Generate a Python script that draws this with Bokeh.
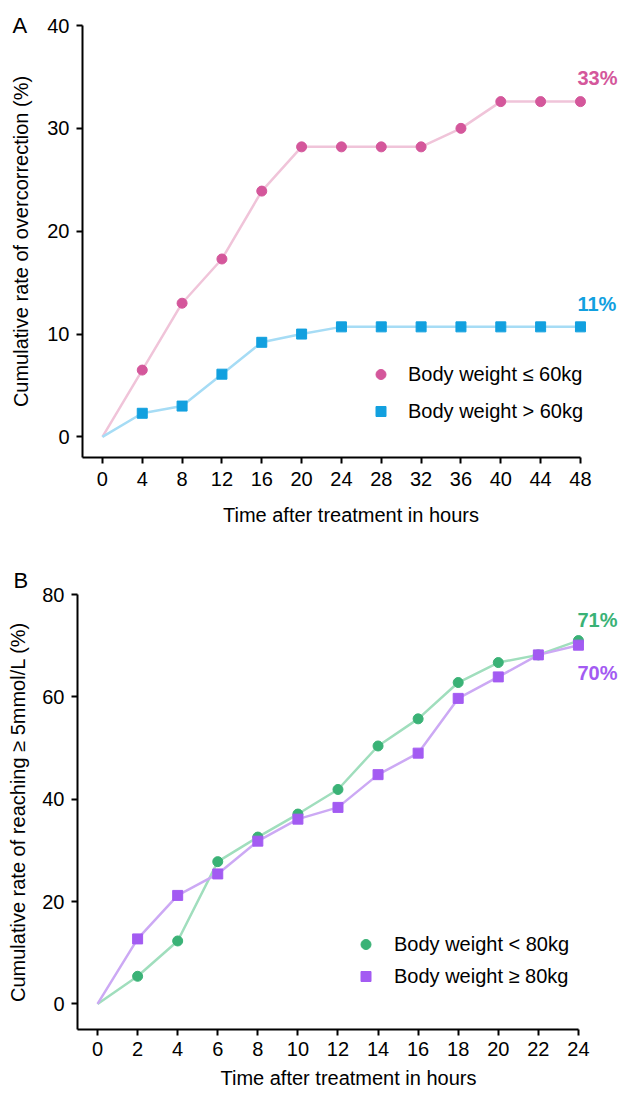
from bokeh.plotting import figure
from bokeh.models import Range1d, Label, Legend, LegendItem, FixedTicker, Title
from bokeh.embed import file_html
from bokeh.resources import INLINE

# ---------------- data ----------------
hours_a = [0, 4, 8, 12, 16, 20, 24, 28, 32, 36, 40, 44, 48]
rate_le60 = [0, 6.5, 13.0, 17.3, 23.9, 28.2, 28.2, 28.2, 28.2, 30.0, 32.6, 32.6, 32.6]
rate_gt60 = [0, 2.3, 3.0, 6.1, 9.2, 10.0, 10.7, 10.7, 10.7, 10.7, 10.7, 10.7, 10.7]
label_le60 = "Body weight \u2264 60kg"
label_gt60 = "Body weight > 60kg"
final_a = ["33%", "11%"]
yticks_a = [0, 10, 20, 30, 40]

hours_b = [0, 2, 4, 6, 8, 10, 12, 14, 16, 18, 20, 22, 24]
rate_lt80 = [0, 5.4, 12.3, 27.8, 32.6, 37.1, 41.9, 50.4, 55.7, 62.8, 66.7, 68.2, 71.0]
rate_ge80 = [0, 12.7, 21.2, 25.4, 31.8, 36.1, 38.4, 44.8, 49.0, 59.7, 63.9, 68.2, 70.1]
label_lt80 = "Body weight < 80kg"
label_ge80 = "Body weight \u2265 80kg"
final_b = ["71%", "70%"]
yticks_b = [0, 20, 40, 60, 80]

FONT = "Liberation Sans"
FS = "20px"
PINK, PINK_L = "#D4579B", "#F0C4D9"
BLUE, BLUE_L = "#12A0DF", "#A6DCF5"
GREEN, GREEN_L = "#3AB276", "#A0DEBD"
PURPLE, PURPLE_L = "#A35BF2", "#CCA9F4"


def style(p, xticks, yticks, xbounds, xlabel, ylabel):
    p.outline_line_color = None
    p.xgrid.visible = False
    p.ygrid.visible = False
    p.xaxis.ticker = FixedTicker(ticks=xticks)
    p.yaxis.ticker = FixedTicker(ticks=yticks)
    p.xaxis.bounds = xbounds
    p.xaxis.axis_label = xlabel
    p.yaxis.axis_label = ylabel
    for ax in (p.xaxis[0], p.yaxis[0]):
        ax.axis_line_width = 2
        ax.axis_line_color = "black"
        ax.major_tick_line_width = 2
        ax.major_tick_line_color = "black"
        ax.major_tick_out = 6
        ax.major_tick_in = 0
        ax.minor_tick_line_color = None
        ax.major_label_text_font = FONT
        ax.major_label_text_font_size = FS
        ax.major_label_text_color = "black"
        ax.axis_label_text_font = FONT
        ax.axis_label_text_font_size = FS
        ax.axis_label_text_font_style = "normal"
        ax.axis_label_text_color = "black"
    p.yaxis.major_label_standoff = 7
    p.yaxis.axis_label_standoff = 12


def add_series(p, xs, ys, color, lcolor, marker, size):
    p.line(xs, ys, line_color=lcolor, line_width=2.5)
    return p.scatter(xs[1:], ys[1:], marker=marker, size=size,
                     fill_color=color, line_color=color)


def pct_label(x, y, text, color, dx, dy):
    return Label(x=x, y=y, text=text, x_offset=dx, y_offset=dy,
                 text_align="left", text_baseline="middle", text_font=FONT,
                 text_font_size=FS, text_font_style="bold", text_color=color)


def panel_title(text, offset, standoff):
    return Title(text=text, align="left", vertical_align="bottom",
                 offset=offset, standoff=standoff, text_font=FONT,
                 text_font_size="22px", text_font_style="normal",
                 text_color="black")


# ---------------- panel A ----------------
# frame extends right of the x axis so the end labels are not clipped
pa = figure(width=619, frame_height=432,
            x_range=Range1d(-2, 48 + 3.92), y_range=Range1d(-2, 40),
            min_border_left=82, min_border_right=0, min_border_top=25,
            min_border_bottom=91,
            output_backend="svg", toolbar_location=None)
pa.title = panel_title("A", -70, -24)
style(pa, hours_a, yticks_a, (-2, 48), "Time after treatment in hours",
      "Cumulative rate of overcorrection (%)")
pa.xaxis.major_label_standoff = 8
pa.xaxis.axis_label_standoff = 15
ra1 = add_series(pa, hours_a, rate_le60, PINK, PINK_L, "circle", 10)
ra2 = add_series(pa, hours_a, rate_gt60, BLUE, BLUE_L, "square", 10)

leg_a = Legend(items=[LegendItem(label=label_le60, renderers=[ra1]),
                      LegendItem(label=label_gt60, renderers=[ra2])],
               location=(286, 33), orientation="vertical",
               glyph_width=25, glyph_height=26, label_height=26,
               label_standoff=15, spacing=11, padding=0, margin=0,
               border_line_color=None, background_fill_alpha=0,
               label_text_font=FONT, label_text_font_size=FS,
               label_text_color="black")
pa.add_layout(leg_a)
pa.add_layout(pct_label(hours_a[-1], rate_le60[-1], final_a[0], PINK, -3, 24))
pa.add_layout(pct_label(hours_a[-1], rate_gt60[-1], final_a[1], BLUE, -3, 23))

# ---------------- panel B ----------------
pb = figure(width=619, frame_height=435,
            x_range=Range1d(-1, 24 + 2.05), y_range=Range1d(-5, 80),
            min_border_left=77, min_border_right=0, min_border_top=46,
            min_border_bottom=10,
            output_backend="svg", toolbar_location=None)
pb.title = panel_title("B", -64, 4)
style(pb, hours_b, yticks_b, (-1, 24), "Time after treatment in hours",
      "Cumulative rate of reaching \u2265 5mmol/L (%)")
pb.yaxis.axis_label_standoff = 10
pb.xaxis.major_label_standoff = 6
pb.xaxis.axis_label_standoff = 8
rb1 = add_series(pb, hours_b, rate_lt80, GREEN, GREEN_L, "circle", 10)
rb2 = add_series(pb, hours_b, rate_ge80, PURPLE, PURPLE_L, "square", 10)

leg_b = Legend(items=[LegendItem(label=label_lt80, renderers=[rb1]),
                      LegendItem(label=label_ge80, renderers=[rb2])],
               location=(276, 40), orientation="vertical",
               glyph_width=25, glyph_height=26, label_height=26,
               label_standoff=16, spacing=6, padding=0, margin=0,
               border_line_color=None, background_fill_alpha=0,
               label_text_font=FONT, label_text_font_size=FS,
               label_text_color="black")
pb.add_layout(leg_b)
pb.add_layout(pct_label(hours_b[-1], rate_lt80[-1], final_b[0], GREEN, -1, 21))
pb.add_layout(pct_label(hours_b[-1], rate_ge80[-1], final_b[1], PURPLE, -1, -28))

# two independent roots, stacked on the page
open("out.html", "w").write(file_html([pa, pb], INLINE))
